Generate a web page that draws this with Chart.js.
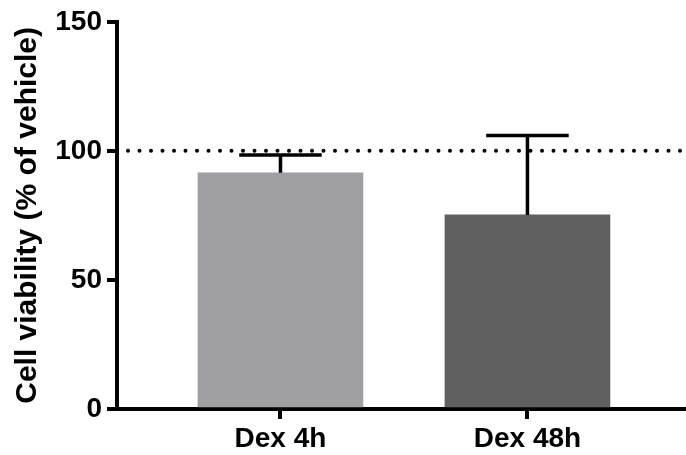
<!DOCTYPE html>
<html>
<head>
<meta charset="utf-8">
<script src="https://cdn.jsdelivr.net/npm/chart.js@4/dist/chart.umd.min.js"></script>
<style>
  html, body { margin: 0; padding: 0; background: #fff; }
  #wrap { width: 686px; height: 455px; }
</style>
</head>
<body>
<div id="wrap"><canvas id="c" width="686" height="455"></canvas></div>
<script>
// Cell viability after dexamethasone treatment, % of vehicle control
const categories = ['Dex 4h', 'Dex 48h'];
const viability = [91.5, 75.2];
const errorUpper = [6.9, 30.8];
const barColors = ['#a09fa4', '#606060'];
const yTicks = [0, 50, 100, 150];
const vehicleLevel = 100;

const FONT = '"Liberation Sans", Arial, Helvetica, sans-serif';

// upper error bars: stem from bar top plus a cap half the bar width
const errorBarPlugin = {
  id: 'errorBars',
  afterDatasetsDraw(chart) {
    const ctx = chart.ctx;
    const meta = chart.getDatasetMeta(0);
    const yScale = chart.scales.y;
    ctx.save();
    ctx.strokeStyle = '#000';
    ctx.lineWidth = 3.5;
    ctx.lineCap = 'butt';
    meta.data.forEach((bar, i) => {
      const top = yScale.getPixelForValue(viability[i] + errorUpper[i]);
      const half = bar.width / 4;
      ctx.beginPath();
      ctx.moveTo(bar.x, bar.y);
      ctx.lineTo(bar.x, top);
      ctx.moveTo(bar.x - half, top);
      ctx.lineTo(bar.x + half, top);
      ctx.stroke();
    });
    ctx.restore();
  }
};

// dotted reference line at the vehicle level
const vehicleLinePlugin = {
  id: 'vehicleLine',
  afterDatasetsDraw(chart) {
    const ctx = chart.ctx;
    const area = chart.chartArea;
    const y = chart.scales.y.getPixelForValue(vehicleLevel);
    ctx.save();
    ctx.strokeStyle = '#000';
    ctx.lineWidth = 4;
    ctx.lineCap = 'round';
    ctx.setLineDash([0, 11.5]);
    ctx.beginPath();
    ctx.moveTo(area.left + 11, y);
    ctx.lineTo(area.right, y);
    ctx.stroke();
    ctx.restore();
  }
};

new Chart(document.getElementById('c'), {
  type: 'bar',
  data: {
    datasets: [{
      data: viability.map((v, i) => ({ x: i + 1, y: v })),
      backgroundColor: barColors,
      borderWidth: 0,
      barThickness: 165
    }]
  },
  options: {
    responsive: false,
    animation: false,
    layout: { padding: { top: 20, right: 0, left: 0, bottom: 0 } },
    plugins: { legend: { display: false }, tooltip: { enabled: false } },
    scales: {
      x: {
        type: 'linear',
        offset: false,
        min: 0.338,
        max: 2.642,
        afterBuildTicks(scale) {
          scale.ticks = categories.map((_, i) => ({ value: i + 1 }));
        },
        afterFit(scale) { scale.height = 46; },
        ticks: {
          autoSkip: false,
          maxRotation: 0,
          padding: 3,
          color: '#000',
          font: { family: FONT, size: 28, weight: 'bold' },
          callback: (v) => categories[v - 1]
        },
        grid: {
          offset: false,
          drawOnChartArea: false,
          drawTicks: true,
          tickLength: 10,
          tickWidth: 4,
          tickColor: '#000',
          lineWidth: 4,
          color: '#000'
        },
        border: { display: true, width: 4, color: '#000' }
      },
      y: {
        min: 0,
        max: 150,
        afterBuildTicks(scale) {
          scale.ticks = yTicks.map(v => ({ value: v }));
        },
        afterFit(scale) { scale.width = 117; },
        ticks: {
          padding: 5,
          color: '#000',
          font: { family: FONT, size: 28, weight: 'bold' }
        },
        grid: {
          drawOnChartArea: false,
          drawTicks: true,
          tickLength: 10,
          tickWidth: 4,
          tickColor: '#000',
          lineWidth: 4,
          color: '#000'
        },
        border: { display: true, width: 4, color: '#000' },
        title: {
          display: true,
          text: 'Cell viability (% of vehicle)',
          color: '#000',
          padding: { top: 10, bottom: 0 },
          font: { family: FONT, size: 30, weight: 'bold' }
        }
      }
    }
  },
  plugins: [errorBarPlugin, vehicleLinePlugin]
});
</script>
</body>
</html>
